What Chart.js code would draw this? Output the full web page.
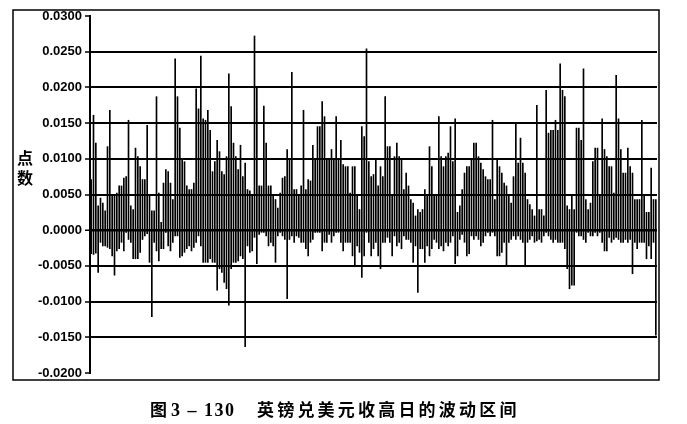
<!DOCTYPE html>
<html>
<head>
<meta charset="utf-8">
<script src="https://cdn.jsdelivr.net/npm/chart.js@4.4.1/dist/chart.umd.min.js"></script>
<style>
  body { margin: 0; background: #fff; }
  #wrap { position: relative; width: 687px; height: 424px; }
  #rangeChart { position: absolute; left: 0; top: 0; }
  #ytitle { position: absolute; left: 17px; top: 147px; width: 20px; font: bold 16px "Noto Sans CJK SC", sans-serif; line-height: 20px; color: #000; }
  .cap { position: absolute; top: 396px; font-weight: bold; color: #000; white-space: pre; }
  #capNo { left: 150px; font-family: "Noto Sans CJK SC", sans-serif; font-size: 17px; }
  #capNo b { font-family: "Liberation Serif", serif; font-size: 18px; letter-spacing: 1.5px; margin-left: 4px; }
  #capText { left: 257px; font-family: "Noto Sans CJK SC", sans-serif; font-size: 17px; letter-spacing: 3.2px; }
</style>
</head>
<body>
<div id="wrap">
  <canvas id="rangeChart" width="687" height="424"></canvas>
  <div id="ytitle">点<br>数</div>
  <div class="cap" id="capNo">图<b>3 – 130</b></div>
  <div class="cap" id="capText">英镑兑美元收高日的波动区间</div>
</div>
<script>
// daily high / low relative to the open (points)
const high = [
    0.0071, 0.0161, 0.0122, 0.0034, 0.0045, 0.0038, 0.0027, 0.0117, 0.0168, 0.0048,
    0.0050, 0.0052, 0.0062, 0.0062, 0.0073, 0.0075, 0.0154, 0.0034, 0.0029, 0.0115,
    0.0103, 0.0089, 0.0071, 0.0071, 0.0147, 0.0048, 0.0027, 0.0027, 0.0187, 0.0052,
    0.0011, 0.0066, 0.0085, 0.0082, 0.0066, 0.0043, 0.0240, 0.0187, 0.0143, 0.0099,
    0.0096, 0.0062, 0.0057, 0.0057, 0.0066, 0.0198, 0.0170, 0.0244, 0.0156, 0.0154,
    0.0168, 0.0140, 0.0082, 0.0096, 0.0126, 0.0110, 0.0082, 0.0078, 0.0103, 0.0219,
    0.0173, 0.0122, 0.0103, 0.0085, 0.0119, 0.0075, 0.0094, 0.0057, 0.0055, 0.0048,
    0.0272, 0.0200, 0.0062, 0.0062, 0.0174, 0.0122, 0.0062, 0.0062, 0.0048, 0.0043,
    0.0031, 0.0052, 0.0073, 0.0075, 0.0113, 0.0099, 0.0221, 0.0057, 0.0057, 0.0048,
    0.0062, 0.0168, 0.0057, 0.0071, 0.0069, 0.0119, 0.0099, 0.0145, 0.0145, 0.0180,
    0.0159, 0.0099, 0.0099, 0.0113, 0.0099, 0.0159, 0.0099, 0.0126, 0.0092, 0.0089,
    0.0089, 0.0052, 0.0089, 0.0089, 0.0048, 0.0029, 0.0145, 0.0131, 0.0254, 0.0096,
    0.0075, 0.0078, 0.0099, 0.0062, 0.0089, 0.0075, 0.0187, 0.0117, 0.0117, 0.0048,
    0.0103, 0.0122, 0.0103, 0.0099, 0.0057, 0.0080, 0.0062, 0.0043, 0.0038, 0.0020,
    0.0029, 0.0025, 0.0029, 0.0057, 0.0048, 0.0117, 0.0089, 0.0048, 0.0048, 0.0159,
    0.0103, 0.0089, 0.0103, 0.0108, 0.0145, 0.0096, 0.0156, 0.0025, 0.0034, 0.0057,
    0.0080, 0.0089, 0.0089, 0.0099, 0.0122, 0.0122, 0.0103, 0.0094, 0.0085, 0.0075,
    0.0071, 0.0071, 0.0154, 0.0043, 0.0099, 0.0089, 0.0080, 0.0066, 0.0062, 0.0048,
    0.0038, 0.0075, 0.0150, 0.0094, 0.0129, 0.0094, 0.0080, 0.0043, 0.0036, 0.0029,
    0.0020, 0.0175, 0.0029, 0.0029, 0.0020, 0.0196, 0.0136, 0.0140, 0.0140, 0.0154,
    0.0140, 0.0233, 0.0196, 0.0187, 0.0034, 0.0029, 0.0048, 0.0029, 0.0143, 0.0143,
    0.0126, 0.0226, 0.0043, 0.0029, 0.0038, 0.0096, 0.0115, 0.0115, 0.0048, 0.0156,
    0.0113, 0.0103, 0.0089, 0.0089, 0.0052, 0.0217, 0.0156, 0.0113, 0.0080, 0.0080,
    0.0115, 0.0089, 0.0080, 0.0043, 0.0043, 0.0043, 0.0154, 0.0048, 0.0025, 0.0025,
    0.0087, 0.0043, 0.0043
];
const low = [
    -0.0033, -0.0034, -0.0032, -0.0059, -0.0017, -0.0022, -0.0022, -0.0024, -0.0026, -0.0036,
    -0.0063, -0.0029, -0.0026, -0.0017, -0.0029, -0.0003, -0.0013, -0.0017, -0.0040, -0.0040,
    -0.0040, -0.0031, -0.0013, -0.0008, -0.0005, -0.0045, -0.0121, -0.0017, -0.0029, -0.0043,
    -0.0026, -0.0026, -0.0003, -0.0022, -0.0029, -0.0017, -0.0008, -0.0008, -0.0038, -0.0036,
    -0.0031, -0.0026, -0.0022, -0.0029, -0.0024, -0.0017, -0.0008, -0.0022, -0.0045, -0.0045,
    -0.0045, -0.0040, -0.0045, -0.0045, -0.0084, -0.0054, -0.0059, -0.0073, -0.0082, -0.0105,
    -0.0054, -0.0045, -0.0045, -0.0043, -0.0036, -0.0040, -0.0163, -0.0022, -0.0031, -0.0029,
    -0.0010, -0.0047, -0.0006, -0.0003, -0.0003, -0.0008, -0.0022, -0.0017, -0.0022, -0.0045,
    -0.0008, -0.0003, -0.0008, -0.0013, -0.0096, -0.0013, -0.0008, -0.0017, -0.0008, -0.0010,
    -0.0017, -0.0017, -0.0026, -0.0036, -0.0017, -0.0013, -0.0003, -0.0003, -0.0003, -0.0029,
    -0.0017, -0.0017, -0.0006, -0.0017, -0.0008, -0.0003, -0.0003, -0.0017, -0.0029, -0.0017,
    -0.0017, -0.0017, -0.0036, -0.0050, -0.0022, -0.0031, -0.0066, -0.0036, -0.0003, -0.0017,
    -0.0036, -0.0026, -0.0017, -0.0036, -0.0054, -0.0017, -0.0017, -0.0010, -0.0017, -0.0036,
    -0.0008, -0.0022, -0.0017, -0.0026, -0.0008, -0.0013, -0.0013, -0.0017, -0.0045, -0.0022,
    -0.0087, -0.0026, -0.0026, -0.0045, -0.0022, -0.0036, -0.0026, -0.0013, -0.0017, -0.0026,
    -0.0022, -0.0029, -0.0017, -0.0022, -0.0017, -0.0008, -0.0047, -0.0036, -0.0013, -0.0006,
    -0.0017, -0.0036, -0.0033, -0.0008, -0.0013, -0.0008, -0.0013, -0.0022, -0.0017, -0.0008,
    -0.0003, -0.0008, -0.0003, -0.0008, -0.0036, -0.0036, -0.0031, -0.0017, -0.0050, -0.0017,
    -0.0013, -0.0008, -0.0013, -0.0008, -0.0013, -0.0017, -0.0050, -0.0017, -0.0013, -0.0008,
    -0.0017, -0.0015, -0.0013, -0.0017, -0.0008, -0.0003, -0.0008, -0.0013, -0.0017, -0.0013,
    -0.0017, -0.0017, -0.0017, -0.0026, -0.0054, -0.0082, -0.0077, -0.0077, -0.0003, -0.0008,
    -0.0008, -0.0013, -0.0017, -0.0003, -0.0008, -0.0008, -0.0003, -0.0008, -0.0003, -0.0017,
    -0.0029, -0.0029, -0.0010, -0.0017, -0.0013, -0.0010, -0.0013, -0.0017, -0.0017, -0.0013,
    -0.0017, -0.0013, -0.0061, -0.0017, -0.0026, -0.0017, -0.0017, -0.0017, -0.0040, -0.0022,
    -0.0040, -0.0017, -0.0147
];
const days = high.map((h, i) => String(i + 1));
const yTicks = [0.03, 0.025, 0.02, 0.015, 0.01, 0.005, 0, -0.005, -0.01, -0.015, -0.02];

// outer frame round the whole chart
const framePlugin = {
    id: 'frame',
    afterDraw(chart) {
        const c = chart.ctx;
        c.save();
        c.strokeStyle = '#000';
        c.lineWidth = 1.5;
        c.strokeRect(13, 10, 646, 370);
        c.restore();
    }
};

const ctx = document.getElementById('rangeChart').getContext('2d');
const rangeChart = new Chart(ctx, {
    type: 'bar',
    data: {
        labels: days,
        datasets: [{
            data: high.map((h, i) => [low[i], h]),
            backgroundColor: '#000',
            borderWidth: 0,
            barThickness: 1
        }]
    },
    options: {
        responsive: false,
        animation: false,
        layout: { padding: { left: 13, right: 30, top: 16, bottom: 51 } },
        plugins: { legend: { display: false }, tooltip: { enabled: false } },
        scales: {
            x: { display: false, offset: true },
            y: {
                min: -0.02,
                max: 0.03,
                afterBuildTicks: s => { s.ticks = yTicks.map(v => ({ value: v })); },
                afterFit: s => { s.width = 77; },
                ticks: {
                    color: '#000',
                    padding: 3,
                    font: { family: 'Liberation Sans', size: 13, weight: 'bold' },
                    callback: v => v.toFixed(4)
                },
                grid: {
                    color: c => (c.tick && (c.tick.value === 0.03 || c.tick.value === -0.02)) ? 'rgba(0,0,0,0)' : '#000',
                    lineWidth: c => (c.tick && c.tick.value === 0) ? 2.5 : 2,
                    tickColor: '#000',
                    tickLength: 5,
                    tickWidth: 1.5
                },
                border: { display: true, color: '#000', width: 2 }
            }
        }
    },
    plugins: [framePlugin]
});
</script>
</body>
</html>
